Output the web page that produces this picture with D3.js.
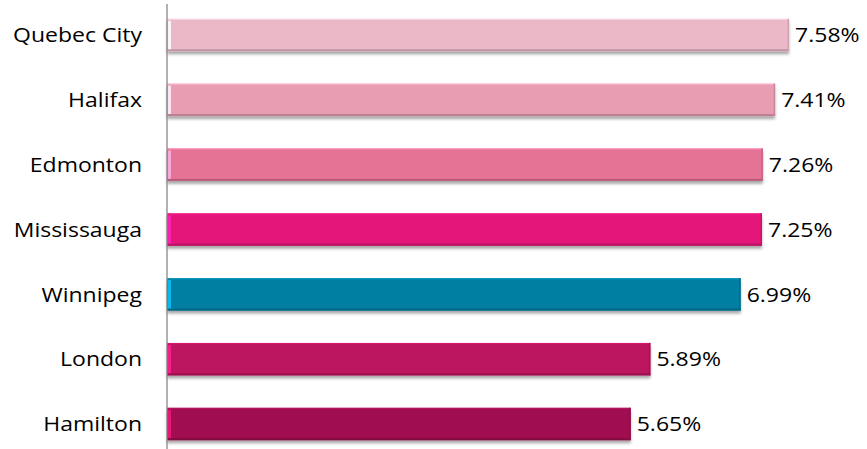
<!DOCTYPE html>
<html><head><meta charset="utf-8">
<script src="https://cdn.jsdelivr.net/npm/d3@7"></script>
<style>body{margin:0;background:#fff;}svg{display:block;}</style>
</head><body><svg id="c" width="867" height="449"></svg>
<script>
const categories = ["Quebec City","Halifax","Edmonton","Mississauga","Winnipeg","London","Hamilton"];
const values = [7.58,7.41,7.26,7.25,6.99,5.89,5.65];
const valueLabels = ["7.58%","7.41%","7.26%","7.25%","6.99%","5.89%","5.65%"];
const colors = ["#ebb8c8","#e99db3","#e47396","#e4187a","#067fa2","#bc1560","#a01051"];

const svg = d3.select("#c");
const FONT = "'Open Sans', sans-serif", FS = 20, SX = 1.15;
const x0 = 167;
const x = d3.scaleLinear().domain([0,8]).range([x0, x0 + 8*82.07]);
const y = d3.scaleBand().domain(categories).range([2.6,456.4]).paddingInner(0.5).paddingOuter(0.25);

const defs = svg.append("defs");
const f = defs.append("filter").attr("id","sh").attr("x","-5%").attr("y","-20%").attr("width","110%").attr("height","160%");
f.append("feGaussianBlur").attr("in","SourceAlpha").attr("stdDeviation",1.5);
f.append("feOffset").attr("dx",0).attr("dy",3).attr("result","b");
f.append("feComponentTransfer").append("feFuncA").attr("type","linear").attr("slope",0.35);
const m = f.append("feMerge"); m.append("feMergeNode"); m.append("feMergeNode").attr("in","SourceGraphic");

const g = svg.append("g");
categories.forEach((c,i)=>{
  const yy = y(c), h = y.bandwidth(), w = x(values[i]) - x(0);
  const col = d3.color(colors[i]);
  const gr = g.append("g");
  gr.append("rect").attr("x",x(0)).attr("y",yy).attr("width",w).attr("height",h)
    .attr("fill",colors[i]).attr("filter","url(#sh)");
  gr.append("rect").attr("x",x(0)).attr("y",yy).attr("width",w).attr("height",1.2)
    .attr("fill",col.brighter(0.5)).attr("opacity",0.7);
  gr.append("rect").attr("x",x(0)).attr("y",yy+h-2).attr("width",w).attr("height",2)
    .attr("fill",col.darker(0.6));
  gr.append("rect").attr("x",x(values[i])-1.5).attr("y",yy).attr("width",1.5).attr("height",h)
    .attr("fill",col.darker(0.4));
  gr.append("rect").attr("x",x(0)+1).attr("y",yy+2).attr("width",3).attr("height",h-4)
    .attr("fill",col.brighter(1.2)).attr("opacity",0.85);
  g.append("text").attr("transform",`translate(${x(values[i])+6},${yy+h/2}) scale(${SX},1)`).attr("dy","0.36em")
    .attr("font-family",FONT).attr("font-size",FS).attr("fill","#000")
    .text(valueLabels[i]);
});

const ax = svg.append("g").attr("transform",`translate(${x0},0)`)
  .call(d3.axisLeft(y).tickSize(0).tickPadding(0));
ax.select(".domain").remove();
ax.selectAll("text").attr("x",null).attr("dy","0.36em")
  .attr("transform",`translate(-25,0) scale(${SX},1)`)
  .attr("font-family",FONT).attr("font-size",FS).attr("fill","#000");
svg.append("line").attr("x1",x0).attr("x2",x0).attr("y1",4).attr("y2",449).attr("stroke","#888").attr("stroke-width",1.3);
</script></body></html>
